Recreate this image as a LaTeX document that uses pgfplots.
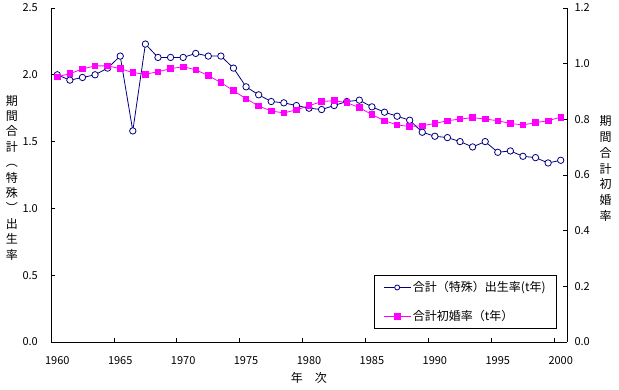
\documentclass[border=0pt]{standalone}
\usepackage{fontspec}
\setmainfont{Noto Sans CJK JP}
\usepackage{pgfplots}
\usepackage{pgfplotstable}
\pgfplotsset{compat=1.18}
\definecolor{navyb}{HTML}{000080}
\definecolor{magc}{HTML}{FF00FF}
\pgfplotstableread{
year tfr
1960 2.00
1961 1.96
1962 1.98
1963 2.00
1964 2.05
1965 2.14
1966 1.58
1967 2.23
1968 2.13
1969 2.13
1970 2.13
1971 2.16
1972 2.14
1973 2.14
1974 2.05
1975 1.91
1976 1.85
1977 1.80
1978 1.79
1979 1.77
1980 1.75
1981 1.74
1982 1.77
1983 1.80
1984 1.81
1985 1.76
1986 1.72
1987 1.69
1988 1.66
1989 1.57
1990 1.54
1991 1.53
1992 1.50
1993 1.46
1994 1.50
1995 1.42
1996 1.43
1997 1.39
1998 1.38
1999 1.34
2000 1.36
}\tfrtable
\pgfplotstableread{
year tfmr
1960 0.953
1961 0.964
1962 0.981
1963 0.992
1964 0.992
1965 0.982
1966 0.968
1967 0.962
1968 0.971
1969 0.982
1970 0.989
1971 0.978
1972 0.957
1973 0.932
1974 0.903
1975 0.874
1976 0.848
1977 0.830
1978 0.823
1979 0.834
1980 0.849
1981 0.864
1982 0.867
1983 0.860
1984 0.842
1985 0.817
1986 0.795
1987 0.780
1988 0.774
1989 0.777
1990 0.785
1991 0.795
1992 0.801
1993 0.806
1994 0.801
1995 0.795
1996 0.785
1997 0.780
1998 0.788
1999 0.795
2000 0.808
}\tfmrtable
\begin{document}
\fontsize{12}{14}\selectfont
\begin{tikzpicture}
\path[use as bounding box] (-51pt,-48pt) rectangle (568pt,342pt);
\pgfplotsset{
  every tick label/.append style={font=\fontsize{11}{13}\selectfont},
  every axis label/.append style={font=\fontsize{12}{14}\selectfont},
}
\begin{axis}[
  at={(0pt,0pt)}, anchor=south west,
  scale only axis, width=516pt, height=334pt,
  xmin=1959.5, xmax=2000.5, ymin=0, ymax=2.5,
  axis x line*=bottom, axis y line*=left,
  axis line style={line width=0.8pt, black},
  xtick={1959.5,1964.5,1969.5,1974.5,1979.5,1984.5,1989.5,1994.5,1999.5},
  xticklabels={1960,1965,1970,1975,1980,1985,1990,1995,2000},
  xticklabel style={xshift=6.3pt, yshift=-10pt},
  ytick={0,0.5,1,1.5,2,2.5},
  yticklabel style={xshift=-9pt, /pgf/number format/.cd, fixed, fixed zerofill, precision=1},
  /pgf/number format/assume math mode=true,
  major tick length=4pt,
  tick style={black, line width=0.8pt},
  tick pos=left,
  xlabel={年　次},
  xlabel style={at={(rel axis cs:0.5,0)}, anchor=center, yshift=-36pt},
  ylabel={\def\arraystretch{1.1}\begin{tabular}{@{}c@{}}期\\間\\合\\計\\︵\\特\\殊\\︶\\出\\生\\率\end{tabular}},
  ylabel style={rotate=-90, at={(rel axis cs:0,0.5)}, anchor=center, xshift=-39pt, yshift=-4pt},
]
\addplot[navyb, line width=0.8pt, mark=*, mark size=3.2pt, mark options={fill=white, draw=navyb, line width=0.8pt}] table[x=year, y=tfr] {\tfrtable};
\end{axis}
\begin{axis}[
  at={(0pt,0pt)}, anchor=south west,
  scale only axis, width=516pt, height=334pt,
  xmin=1959.5, xmax=2000.5, ymin=0, ymax=1.2,
  axis x line=none, axis y line*=right,
  axis line style={line width=0.8pt, black},
  ytick={0,0.2,0.4,0.6,0.8,1.0,1.2},
  yticklabel style={xshift=3.3pt, /pgf/number format/.cd, fixed, fixed zerofill, precision=1},
  /pgf/number format/assume math mode=true,
  major tick length=4pt,
  tick style={black, line width=0.8pt},
  ylabel={\def\arraystretch{1.13}\begin{tabular}{@{}c@{}}期\\間\\合\\計\\初\\婚\\率\end{tabular}},
  ylabel style={rotate=-90, at={(rel axis cs:1,0.5)}, anchor=center, xshift=38.6pt, yshift=5pt},
  legend style={at={(0.9806,0.039)}, anchor=south east, draw=black, line width=0.8pt,
    inner xsep=9pt, inner ysep=4pt, row sep=13pt, font=\fontsize{12}{14}\selectfont},
  legend cell align=left,
  legend image code/.code={\draw[mark repeat=2, mark phase=2] plot coordinates {(0cm,0cm) (0.47cm,0cm) (0.94cm,0cm)};},
]
\addlegendimage{navyb, line width=0.8pt, mark=*, mark size=2.5pt, mark options={fill=white, draw=navyb, line width=0.8pt}}
\addlegendentry{合計（特殊）出生率(t年)}
\addplot[magc, line width=0.8pt, mark=square*, mark size=2.8pt, mark options={fill=magc, draw=magc}] table[x=year, y=tfmr] {\tfmrtable};
\addlegendentry{合計初婚率（t年）}
\end{axis}
\end{tikzpicture}
\end{document}
